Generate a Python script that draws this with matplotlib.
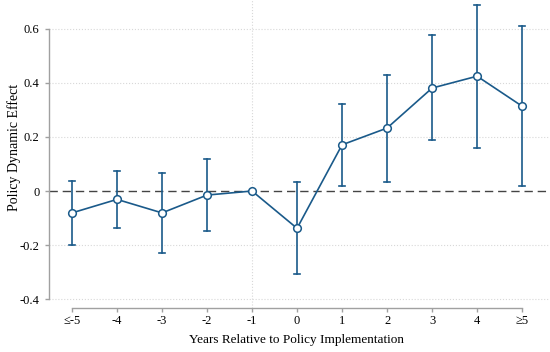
import matplotlib
matplotlib.use("Agg")
import matplotlib.pyplot as plt

# event-study estimates
labels = ["≤-5", "-4", "-3", "-2", "-1", "0", "1", "2", "3", "4", "≥5"]
coef = [-0.081, -0.031, -0.081, -0.015, 0.0, -0.138, 0.171, 0.233, 0.381, 0.425, 0.314]
ci_low = [-0.200, -0.136, -0.231, -0.147, 0.0, -0.309, 0.020, 0.032, 0.188, 0.160, 0.020]
ci_high = [0.037, 0.074, 0.068, 0.120, 0.0, 0.032, 0.322, 0.431, 0.577, 0.690, 0.610]
yticks = [-0.4, -0.2, 0, 0.2, 0.4, 0.6]
ytick_labels = ["-0.4", "-0.2", "0", "0.2", "0.4", "0.6"]

blue = "#1a5a8a"
plt.rcParams["font.family"] = ["Liberation Serif", "DejaVu Serif"]

fig = plt.figure(figsize=(5.5, 3.52), dpi=100)
ax = fig.add_axes([49 / 550, 44 / 352, 501 / 550, 308 / 352])

x = list(range(len(labels)))
for i in x:
    if ci_high[i] != ci_low[i]:
        ax.plot([i, i], [ci_low[i], ci_high[i]], color=blue, lw=1.2, zorder=3)
        for v in (ci_low[i], ci_high[i]):
            ax.plot([i - 0.07, i + 0.07], [v, v], color=blue, lw=1.2, zorder=3)

ax.plot(x, coef, color=blue, lw=1.2, marker="o", markersize=5.5,
        markerfacecolor="white", markeredgecolor=blue, markeredgewidth=1.1, zorder=4)

ax.axhline(0, color="#444444", lw=1.0, ls=(0, (6, 3.5)), zorder=2)
ax.axvline(4, color="#d8d8d8", lw=0.8, ls=":", zorder=1)
for t in yticks:
    if t != 0:
        ax.axhline(t, color="#d8d8d8", lw=0.8, ls=":", zorder=1)

ax.set_xlim(-0.511, 10.62)
ax.set_ylim(-0.433, 0.707)

ax.spines["top"].set_visible(False)
ax.spines["right"].set_visible(False)
ax.spines["left"].set_bounds(-0.4, 0.6)
ax.spines["bottom"].set_bounds(0, 10)
for s in ("left", "bottom"):
    ax.spines[s].set_color("#a0a0a0")
    ax.spines[s].set_linewidth(1.0)

ax.set_xticks(x)
ax.set_xticklabels(labels, fontsize=9)
ax.set_yticks(yticks)
ax.set_yticklabels(ytick_labels, fontsize=9)
ax.tick_params(axis="both", direction="out", length=3, color="#a0a0a0", width=1.0)
ax.tick_params(axis="y", pad=4)
ax.tick_params(axis="x", pad=2)

ax.set_xlabel("Years Relative to Policy Implementation", fontsize=9.5, va="center")
ax.xaxis.set_label_coords(0.495, -0.104)
ax.set_ylabel("Policy Dynamic Effect", fontsize=10, va="center")
ax.yaxis.set_label_coords(-0.07, 0.52)

fig.savefig("out.png", dpi=100)
